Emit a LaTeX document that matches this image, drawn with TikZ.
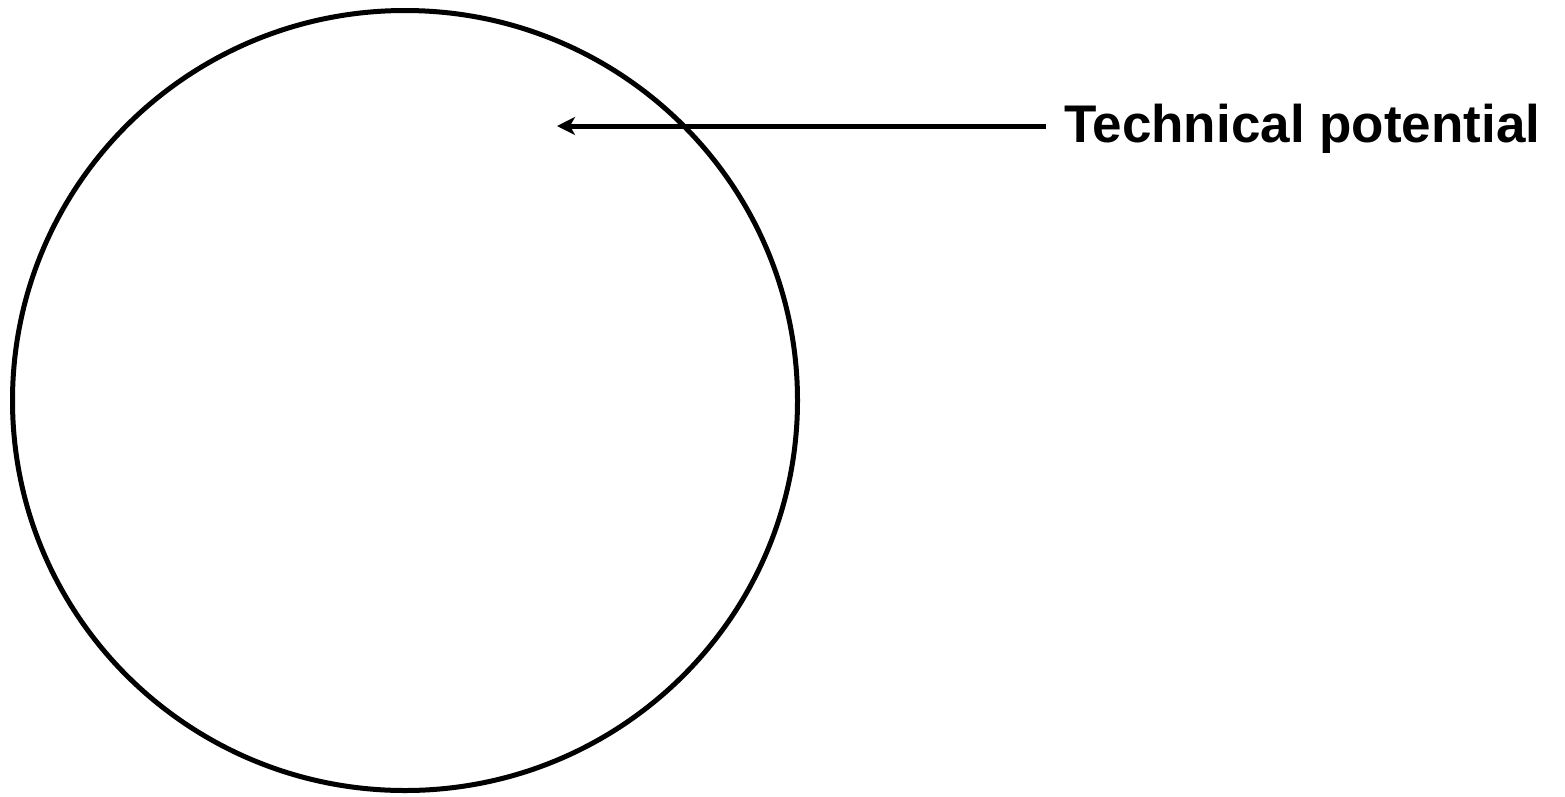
\documentclass[tikz,border=0pt]{standalone}
\usepackage{fontspec}
\setmainfont{Liberation Sans}
\usetikzlibrary{arrows.meta}
\begin{document}
\begin{tikzpicture}[x=1pt,y=-1pt,
  outline/.style={draw=black,line width=5pt},
  pointer/.style={draw=black,line width=5pt,-{Stealth[length=18pt,width=18pt,inset=5pt]}},
  label/.style={font=\fontsize{53}{60}\selectfont\bfseries,inner sep=0pt,anchor=base west}]
\useasboundingbox (0,0) rectangle (1565,796);
\draw[outline] (405,400.5) ellipse [x radius=392.5, y radius=390];
\node[label] (lbl) at (1064,142) {Technical potential};
\coordinate (tip) at (557,126);
\draw[pointer] (1046,126) -- (tip);
\end{tikzpicture}
\end{document}
